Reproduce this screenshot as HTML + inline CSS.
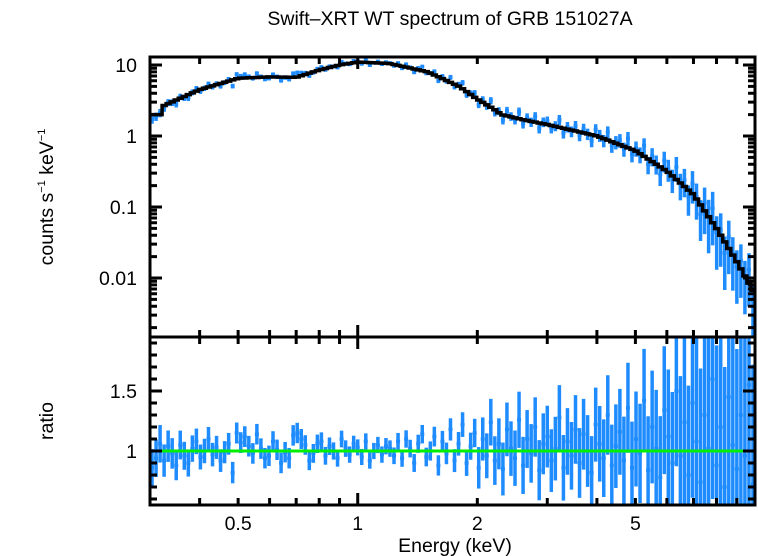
<!DOCTYPE html>
<html><head><meta charset="utf-8"><style>
html,body{margin:0;padding:0;background:#fff;}
svg{display:block;font-family:"Liberation Sans",sans-serif;}
</style></head><body>
<svg id="chart" width="758" height="556" viewBox="0 0 758 556" xmlns="http://www.w3.org/2000/svg">
<text x="450" y="25" font-size="19.5" text-anchor="middle">Swift–XRT WT spectrum of GRB 151027A</text>
<text transform="translate(53,197) rotate(-90)" font-size="19.5" text-anchor="middle">counts s<tspan font-size="11" dy="-8">−1</tspan><tspan dy="8"> keV</tspan><tspan font-size="11" dy="-8">−1</tspan></text>
<text transform="translate(53,421) rotate(-90)" font-size="19.5" text-anchor="middle">ratio</text>
<text x="455" y="552" font-size="19.5" text-anchor="middle">Energy (keV)</text>
<g id="marks"></g>
<g id="axes"></g>
</svg>
<script>
// model (counts s^-1 keV^-1) control points
const modelE = [0.3,0.32,0.321,0.4,0.5,0.6,0.7,0.8,0.9,1.0,1.2,1.5,1.8,2.0,2.2,2.3,2.6,3.0,4.0,5.0,6.0,7.0,8.0,9.0,10.0];
const modelC = [2.0,2.0,2.6,4.5,6.5,6.8,6.7,8.5,10,11,10.5,8,5,3.3,2.4,2.0,1.7,1.45,1.0,0.62,0.32,0.15,0.05,0.017,0.006];
// ratio data per bin (log-spaced 0.3-10 keV)
const ratios = [
0.86,0.94,1.06,0.92,1.04,0.98,0.88,1.05,0.96,0.90,1.02,1.08,0.95,1.00,1.10,0.97,1.03,0.92,0.99,1.06,
0.82,1.15,1.07,1.12,1.04,0.98,1.14,1.02,0.94,0.96,1.08,1.01,0.90,0.99,0.94,1.13,1.15,1.10,1.05,0.92,
0.98,1.06,1.08,0.96,1.04,1.00,0.94,1.10,1.02,0.97,1.06,1.03,0.95,1.08,0.92,1.00,1.05,0.97,1.04,1.02,
0.96,1.08,0.94,1.10,1.02,0.90,1.06,1.14,0.95,1.00,1.12,0.88,1.08,0.98,1.18,0.92,1.06,1.22,0.90,1.04,
1.15,0.86,1.10,0.96,1.24,0.92,1.06,0.85,1.18,1.02,0.94,1.26,0.88,1.10,0.98,1.20,0.84,1.06,1.12,0.92,
1.02,1.28,0.86,1.08,0.96,1.18,0.90,1.14,1.00,0.82,1.22,1.06,0.94,1.30,0.88,1.04,1.16,0.92,1.36,0.86,
1.10,0.98,1.42,0.84,1.20,1.02,0.78,1.34,1.12,0.90,1.50,0.96,1.24,0.80,1.40,1.08,0.74,1.30,1.02,1.60,
0.88,1.20,0.70,1.45,1.05,0.85,1.30,0.96,1.55,0.72];
const xTickVals = [0.5,1,2,5];
const xTickLabels = ["0.5","1","2","5"];
const yTopTickVals = [10,1,0.1,0.01];
const yTopTickLabels = ["10","1","0.1","0.01"];
const yBotTickVals = [1,1.5];
const yBotTickLabels = ["1","1.5"];

const NS="http://www.w3.org/2000/svg";
const L=150,R=755,T=57,M=337,B=505;
const xs=e=>L+(Math.log10(e)-Math.log10(0.3))/(1-Math.log10(0.3))*(R-L);
const ysT=v=>65-(Math.log10(v)-1)*71;
const ysB=v=>451-(v-1)*120;
function model(e){
  for(let i=0;i<modelE.length-1;i++){
    if(e<=modelE[i+1]){const t=(Math.log(e)-Math.log(modelE[i]))/(Math.log(modelE[i+1])-Math.log(modelE[i]));
      return Math.exp(Math.log(modelC[i])+t*(Math.log(modelC[i+1])-Math.log(modelC[i])));}
  }
  return modelC[modelC.length-1];
}
function mk(tag,attrs,parent){const el=document.createElementNS(NS,tag);for(const k in attrs)el.setAttribute(k,attrs[k]);parent.appendChild(el);return el;}
const marks=document.getElementById('marks'),axes=document.getElementById('axes');
const clipT=mk('clipPath',{id:'ct'},marks);mk('rect',{x:L,y:T,width:R-L,height:M-T},clipT);
const clipB=mk('clipPath',{id:'cb'},marks);mk('rect',{x:L,y:M,width:R-L,height:B-M},clipB);
const gT=mk('g',{'clip-path':'url(#ct)'},marks);


const gB=mk('g',{'clip-path':'url(#cb)'},marks);


const blue="#1e8cff";
const n=ratios.length,lo=Math.log10(0.3),hi=1;
let modelPath="";
for(let i=0;i<n;i++){
  const e0=Math.pow(10,lo+(hi-lo)*i/n),e1=Math.pow(10,lo+(hi-lo)*(i+1)/n),ec=Math.sqrt(e0*e1);
  const m=model(ec),r=ratios[i];
  const errR=Math.min(0.07*Math.sqrt(10/m)*(ec>2?1.4:1),1.0);
  const errT=Math.min(0.06*Math.sqrt(10/m),0.7);
  const x0=xs(e0),x1=xs(e1),xc=xs(ec);
  const gp=mk('g',{stroke:blue,'stroke-width':3.5},gB);
  
  
  mk('line',{x1:xc,x2:xc,y1:ysB(r+errR),y2:ysB(Math.max(r-errR,0.3))},gp);
  mk('line',{x1:x0,x2:x1,y1:ysB(r),y2:ysB(r)},gp);
  const d=m*r;
  const gs=mk('g',{stroke:blue,'stroke-width':3.5},gT);
  
  
  mk('line',{x1:xc,x2:xc,y1:ysT(d*(1+errT)),y2:ysT(d*(1-errT))},gs);
  mk('line',{x1:x0,x2:x1,y1:ysT(d),y2:ysT(d)},gs);
  modelPath+=(i===0?"M":"L")+x0+","+ysT(m)+"L"+x1+","+ysT(m);
}
const mp=mk('path',{d:modelPath,fill:'none',stroke:'#000','stroke-width':3.5},gT);


const gl=mk('line',{x1:L,x2:R,y1:ysB(1),y2:ysB(1),stroke:'#00ee00','stroke-width':3},gB);


const f1=mk('rect',{x:L,y:T,width:R-L,height:M-T,fill:'none',stroke:'#000','stroke-width':3},axes);


const f2=mk('rect',{x:L,y:M,width:R-L,height:B-M,fill:'none',stroke:'#000','stroke-width':3},axes);


const minor=[0.3,0.4,0.5,0.6,0.7,0.8,0.9,1,2,3,4,5,6,7,8,9];
minor.forEach(v=>{const x=xs(v),len=(v===1)?12:7;
  [T,M].forEach(y=>mk('line',{x1:x,x2:x,y1:y,y2:y+len,stroke:'#000','stroke-width':3},axes));
  [M,B].forEach(y=>mk('line',{x1:x,x2:x,y1:y,y2:y-len,stroke:'#000','stroke-width':3},axes));
});
xTickVals.forEach((v,i)=>{const t=mk('text',{x:xs(v),y:530,'font-size':19.5,'text-anchor':'middle'},axes);t.textContent=xTickLabels[i];
  
  });
[10,1,0.1,0.01,0.001].forEach(dec=>{for(let k=1;k<10;k++){const v=dec*k,y=ysT(v);if(y<T||y>M)continue;const len=k===1?12:7;
  mk('line',{x1:L,x2:L+len,y1:y,y2:y,stroke:'#000','stroke-width':3},axes);
  mk('line',{x1:R,x2:R-len,y1:y,y2:y,stroke:'#000','stroke-width':3},axes);}});
yTopTickVals.forEach((v,i)=>{const t=mk('text',{x:137,y:ysT(v)+7,'font-size':19.5,'text-anchor':'end'},axes);t.textContent=yTopTickLabels[i];
  
  });
for(let v=0.6;v<1.96;v+=0.1){const y=ysB(v),maj=Math.abs(v-1)<0.01||Math.abs(v-1.5)<0.01,len=maj?12:7;
  mk('line',{x1:L,x2:L+len,y1:y,y2:y,stroke:'#000','stroke-width':3},axes);
  mk('line',{x1:R,x2:R-len,y1:y,y2:y,stroke:'#000','stroke-width':3},axes);}
yBotTickVals.forEach((v,i)=>{const t=mk('text',{x:137,y:ysB(v)+7,'font-size':19.5,'text-anchor':'end'},axes);t.textContent=yBotTickLabels[i];
  
  });
</script>
</body></html>
